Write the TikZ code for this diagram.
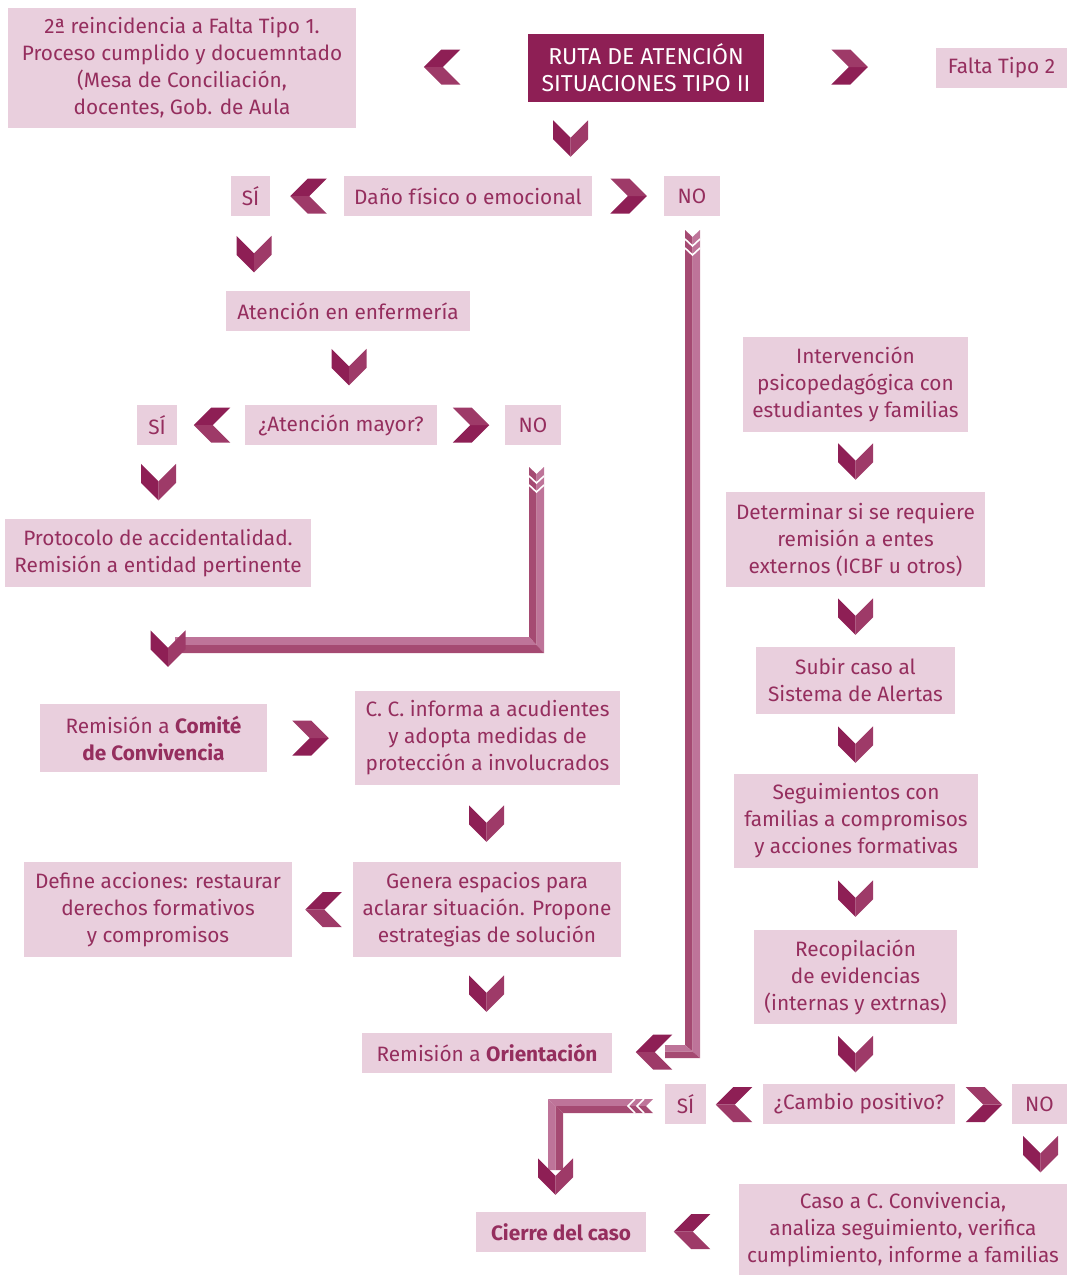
\documentclass[tikz,border=0pt]{standalone}
\usepackage{fontspec}
\setmainfont{Fira Sans}
\definecolor{BoxFill}{HTML}{E9CFDD}
\definecolor{BoxText}{HTML}{952E5E}
\definecolor{TitleFill}{HTML}{8E1F55}
\definecolor{ChevronDark}{HTML}{8E1F55}
\definecolor{ChevronLight}{HTML}{9E3A68}
\definecolor{BarDark}{HTML}{A54A72}
\definecolor{BarLight}{HTML}{BE7499}

\tikzset{
  caja/.style = {fill = BoxFill, text = BoxText, align = center, inner sep = 0pt,
    font = \fontsize{20.8}{27}\selectfont},
  titulo/.style = {caja, fill = TitleFill, text = white, font = \fontsize{23}{27}\selectfont},
  chevron/.pic = {
    \fill[ChevronDark] (-17.5, -18.25) -- (0, -0.75) -- (0, 18.25) -- (-17.5, 0.75) -- cycle;
    \fill[ChevronLight] (0, -0.75) -- (17.5, -18.25) -- (17.5, 0.75) -- (0, 18.25) -- cycle;
  },
  pluma/.style = {white, line width = 1.6pt},
}

\begin{document}
\begin{tikzpicture}[x = 1pt, y = -1pt]

\useasboundingbox (0, 0) rectangle (1067, 1275);

\node[caja, minimum width = 348, minimum height = 120] (reinc) at (182, 68)
    {2ª reincidencia a Falta Tipo 1.\\ Proceso cumplido y docuemntado\\ (Mesa de Conciliación,\\ docentes, Gob. de Aula};
\node[titulo, minimum width = 236, minimum height = 68] (ruta) at (646, 68)
    {RUTA DE ATENCIÓN\\ SITUACIONES TIPO II};
\node[caja, minimum width = 131, minimum height = 40] (tipo2) at (1001.5, 68) {Falta Tipo 2};

\node[caja, minimum width = 39, minimum height = 40] (si1) at (250.5, 196) {SÍ};
\node[caja, minimum width = 248, minimum height = 40] (dano) at (468, 196) {Daño físico o emocional};
\node[caja, minimum width = 56, minimum height = 40] (no1) at (692, 196) {NO};

\node[caja, minimum width = 244, minimum height = 40] (enfer) at (348, 311) {Atención en enfermería};

\node[caja, minimum width = 40, minimum height = 40] (si2) at (157, 425) {SÍ};
\node[caja, minimum width = 192, minimum height = 40] (mayor) at (341, 425) {¿Atención mayor?};
\node[caja, minimum width = 56, minimum height = 40] (no2) at (533, 425) {NO};

\node[caja, minimum width = 306, minimum height = 68] (proto) at (158, 553)
    {Protocolo de accidentalidad.\\ Remisión a entidad pertinente};

\node[caja, minimum width = 227, minimum height = 68] (comite) at (153.5, 738)
    {Remisión a \textbf{Comité}\\ \textbf{de Convivencia}};
\node[caja, minimum width = 265, minimum height = 94] (informa) at (487.5, 738)
    {C. C. informa a acudientes\\ y adopta medidas de\\ protección a involucrados};
\node[caja, minimum width = 268, minimum height = 95] (genera) at (487, 909.5)
    {Genera espacios para\\ aclarar situación. Propone\\ estrategias de solución};
\node[caja, minimum width = 268, minimum height = 95] (define) at (158, 909.5)
    {Define acciones: restaurar\\ derechos formativos\\ y compromisos};
\node[caja, minimum width = 250, minimum height = 40] (orienta) at (487, 1053)
    {Remisión a \textbf{Orientación}};

\node[caja, minimum width = 225, minimum height = 95] (interv) at (855.5, 384.5)
    {Intervención\\ psicopedagógica con\\ estudiantes y familias};
\node[caja, minimum width = 259, minimum height = 95] (determ) at (855.5, 539.5)
    {Determinar si se requiere\\ remisión a entes\\ externos (ICBF u otros)};
\node[caja, minimum width = 199, minimum height = 67] (subir) at (855.5, 680.5)
    {Subir caso al\\ Sistema de Alertas};
\node[caja, minimum width = 244, minimum height = 94] (segui) at (856, 821)
    {Seguimientos con\\ familias a compromisos\\ y acciones formativas};
\node[caja, minimum width = 203, minimum height = 94] (recop) at (855.5, 977)
    {Recopilación\\ de evidencias\\ (internas y extrnas)};

\node[caja, minimum width = 41, minimum height = 40] (si3) at (685.5, 1104) {SÍ};
\node[caja, minimum width = 192, minimum height = 40] (cambio) at (859, 1104) {¿Cambio positivo?};
\node[caja, minimum width = 55, minimum height = 40] (no3) at (1039.5, 1104) {NO};
\node[caja, minimum width = 328, minimum height = 91] (caso) at (903, 1229.5)
    {Caso a C. Convivencia,\\ analiza seguimiento, verifica\\ cumplimiento, informe a familias};
\node[caja, minimum width = 170, minimum height = 40] (cierre) at (561, 1232) {\textbf{Cierre del caso}};

\pic[rotate = -90] at (442, 67) {chevron};
\pic[rotate = 90] at (849.5, 67) {chevron};
\pic at (570.5, 138.5) {chevron};
\pic[rotate = -90] at (308.5, 196) {chevron};
\pic[rotate = 90] at (628.5, 196) {chevron};
\pic at (254, 254) {chevron};
\pic at (349, 367) {chevron};
\pic[rotate = -90] at (212, 425) {chevron};
\pic[rotate = 90] at (471, 425) {chevron};
\pic at (158.5, 482) {chevron};
\pic[rotate = 90] at (310.5, 738) {chevron};
\pic at (486.5, 823.5) {chevron};
\pic[rotate = -90] at (323.5, 909.5) {chevron};
\pic at (486.5, 993.5) {chevron};
\foreach \y in {461.5, 616.5, 744.5, 898.5, 1054}
    \pic at (855.5, \y) {chevron};
\pic[rotate = -90] at (734, 1104.5) {chevron};
\pic[rotate = 90] at (984, 1104.5) {chevron};
\pic at (1040.5, 1154) {chevron};
\pic[rotate = -90] at (692, 1231.5) {chevron};

% NO de atención mayor
\fill[BarDark] (529, 467) -- (536.5, 474) -- (536.5, 645) -- (529, 637) -- cycle;
\fill[BarLight] (536.5, 474) -- (544, 467) -- (544, 653) -- (536.5, 645) -- cycle;
\fill[BarLight] (175, 637) -- (529, 637) -- (536.5, 645) -- (175, 645) -- cycle;
\fill[BarDark] (175, 645) -- (536.5, 645) -- (544, 653) -- (175, 653) -- cycle;
\draw[pluma] (529, 476) -- (536.5, 483) -- (544, 476);
\draw[pluma] (529, 485) -- (536.5, 492) -- (544, 485);
\pic at (168, 648.5) {chevron};

% NO de daño
\fill[BarDark] (685, 230) -- (692.5, 237) -- (692.5, 1051.5) -- (685, 1045) -- cycle;
\fill[BarLight] (692.5, 237) -- (700, 230) -- (700, 1058) -- (692.5, 1051.5) -- cycle;
\fill[BarLight] (665, 1045) -- (685, 1045) -- (692.5, 1051.5) -- (665, 1051.5) -- cycle;
\fill[BarDark] (665, 1051.5) -- (692.5, 1051.5) -- (700, 1058) -- (665, 1058) -- cycle;
\draw[pluma] (685, 239) -- (692.5, 246) -- (700, 239);
\draw[pluma] (685, 248) -- (692.5, 255) -- (700, 248);
\pic[rotate = -90] at (654, 1052) {chevron};

% SÍ de cambio positivo
\fill[BarLight] (548, 1099) -- (653, 1099) -- (646, 1106) -- (555.5, 1106) -- cycle;
\fill[BarDark] (555.5, 1106) -- (646, 1106) -- (653, 1113) -- (563, 1113) -- cycle;
\fill[BarLight] (548, 1099) -- (555.5, 1106) -- (555.5, 1170) -- (548, 1170) -- cycle;
\fill[BarDark] (555.5, 1106) -- (563, 1113) -- (563, 1170) -- (555.5, 1170) -- cycle;
\draw[pluma] (644, 1099) -- (637, 1106) -- (644, 1113);
\draw[pluma] (635, 1099) -- (628, 1106) -- (635, 1113);
\pic at (555.5, 1176.5) {chevron};

\end{tikzpicture}
\end{document}
